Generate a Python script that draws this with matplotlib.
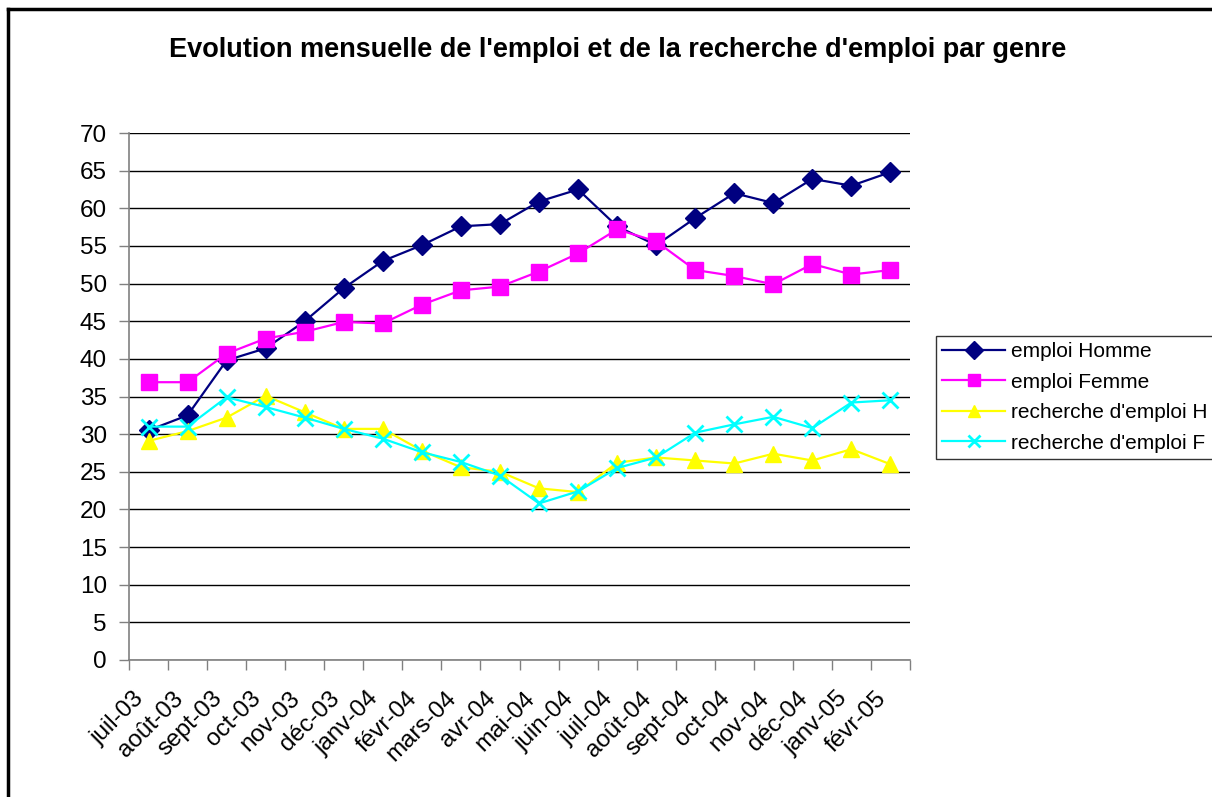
import matplotlib.pyplot as plt
from matplotlib.lines import Line2D

plt.rcParams['font.family'] = ['Liberation Sans', 'DejaVu Sans']

# months (Excel style French labels)
mois = ['juil-03', 'août-03', 'sept-03', 'oct-03', 'nov-03', 'déc-03',
        'janv-04', 'févr-04', 'mars-04', 'avr-04', 'mai-04', 'juin-04',
        'juil-04', 'août-04', 'sept-04', 'oct-04', 'nov-04', 'déc-04',
        'janv-05', 'févr-05']

emploi_homme = [30.5, 32.5, 39.8, 41.4, 45.0, 49.4, 53.0, 55.1, 57.6, 57.9,
                60.9, 62.5, 57.6, 55.1, 58.7, 62.0, 60.7, 63.9, 63.0, 64.8]
emploi_femme = [36.9, 36.9, 40.7, 42.7, 43.6, 44.9, 44.7, 47.2, 49.1, 49.6,
                51.6, 54.0, 57.2, 55.6, 51.8, 51.0, 49.9, 52.6, 51.2, 51.8]
recherche_h = [29.1, 30.4, 32.2, 35.1, 32.9, 30.7, 30.7, 27.8, 25.6, 25.0,
               22.8, 22.3, 26.2, 26.9, 26.5, 26.1, 27.4, 26.5, 28.0, 26.0]
recherche_f = [31.0, 31.0, 34.9, 33.6, 32.2, 30.7, 29.4, 27.6, 26.3, 24.5,
               20.8, 22.4, 25.5, 26.9, 30.2, 31.3, 32.3, 30.8, 34.2, 34.5]

fig = plt.figure(figsize=(12.12, 7.97), dpi=100)
ax = fig.add_axes([129/1212, 1 - 660/797, (910 - 129)/1212, (660 - 133)/797])

x = list(range(len(mois)))
ax.plot(x, emploi_homme, color='#000080', lw=1.6, marker='D', ms=10, label='emploi Homme')
ax.plot(x, emploi_femme, color='#FF00FF', lw=1.6, marker='s', ms=11, label='emploi Femme')
ax.plot(x, recherche_h, color='#FFFF00', lw=1.6, marker='^', ms=12, label="recherche d'emploi H")
ax.plot(x, recherche_f, color='#00FFFF', lw=1.6, marker='x', ms=12, mew=2, label="recherche d'emploi F")

ax.set_ylim(0, 70)
ax.set_yticks(range(0, 71, 5))
ax.set_xlim(-0.5, len(mois) - 0.5)
ax.yaxis.grid(True, color='black', lw=1)
ax.set_axisbelow(True)

# ticks between categories, labels centered on categories
ax.set_xticks([i - 0.5 for i in range(len(mois) + 1)])
ax.set_xticklabels([])
ax.set_xticks(x, minor=True)
ax.set_xticklabels(mois, minor=True, rotation=45, ha='right', va='bottom',
                   rotation_mode='anchor', fontsize=17.5)
ax.tick_params(axis='x', which='minor', length=0, pad=31)
ax.tick_params(axis='x', which='major', length=7, width=1, color='#808080', direction='out')
ax.tick_params(axis='y', length=7, width=1, color='#808080', labelsize=17.5, pad=9)

for s in ['top', 'right']:
    ax.spines[s].set_visible(False)
for s in ['left', 'bottom']:
    ax.spines[s].set_color('#808080')
    ax.spines[s].set_linewidth(1.2)

fig.text(618/1212, 1 - 50/797, "Evolution mensuelle de l'emploi et de la recherche d'emploi par genre",
         ha='center', va='center', fontsize=19.5, fontweight='bold')

leg = fig.legend(loc='upper left', bbox_to_anchor=(936/1212, 1 - 336/797),
                 fontsize=15, frameon=True, fancybox=False, handlelength=3,
                 handletextpad=0.3, labelspacing=0.55, borderpad=0.3, borderaxespad=0)
leg.get_frame().set_edgecolor('black')
leg.get_frame().set_linewidth(1)
for h in leg.legend_handles:
    h.set_markersize(9)

# outer chart border (cropped on the right and bottom)
fig.add_artist(Line2D([8/1212, 8/1212], [0, 1 - 9/797], color='black', lw=2.5))
fig.add_artist(Line2D([8/1212, 1], [1 - 9/797, 1 - 9/797], color='black', lw=2.5))

fig.savefig('out.png', dpi=100)
